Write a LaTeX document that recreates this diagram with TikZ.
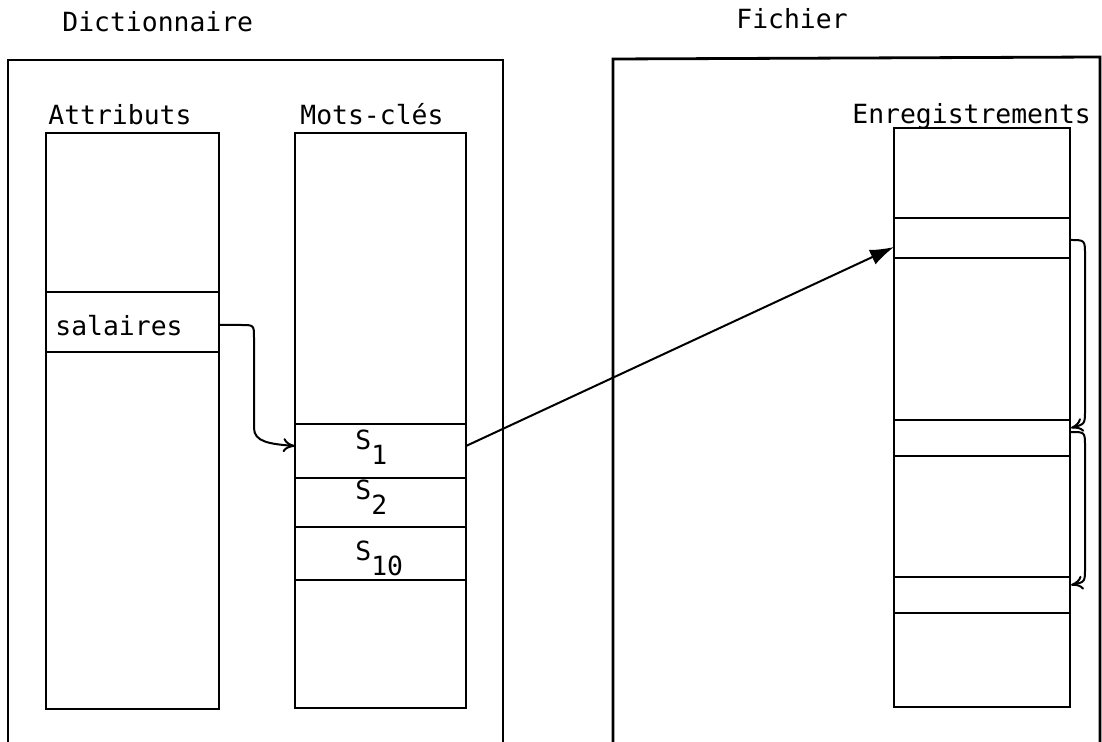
\documentclass[tikz,border=0pt]{standalone}
\usepackage{fontspec}
\setmonofont{DejaVu Sans Mono}
\usetikzlibrary{arrows.meta}
\newcommand{\indice}[1]{\raisebox{-7.5pt}{#1}}

\begin{document}
\begin{tikzpicture}[x=0.5pt,y=-0.5pt,
        texte/.style={anchor=base west, inner sep=0pt, font=\ttfamily\fontsize{13.2}{15}\selectfont},
        cadre/.style={line width=1.4pt},
        colonne/.style={line width=1.2pt},
        case/.style={line width=1pt},
        fleche/.style={line width=1pt, -{To[length=6pt,width=7pt]}}]
        \useasboundingbox (0,0) rectangle (1102,742);
        % Titres
        \node[texte] (dico) at (62,32) {Dictionnaire};
        \node[texte] (fich) at (736,29) {Fichier};
        % Cadres ouverts en bas
        \draw[cadre] (8,742) -- (8,60) -- (503,60) -- (503,742);
        \draw[cadre] (613,742) -- (613,59) -- (1100,57) -- (1100,742);
        % Colonne des attributs
        \node[texte] (attr) at (48,125) {Attributs};
        \draw[colonne] (46,133) rectangle (219,709);
        \draw[case] (46,292) -- (219,292);
        \draw[case] (46,352) -- (219,352);
        \node[texte] (sal) at (55,336) {salaires};
        % Colonne des mots-clés
        \node[texte] (mots) at (300,125) {Mots-clés};
        \draw[colonne] (295,133) rectangle (466,708);
        \foreach \y in {424,478,527,580}
            \draw[case] (295,\y) -- (466,\y);
        \node[texte] (s1) at (355,450) {S\indice{1}};
        \node[texte] (s2) at (355,500) {S\indice{2}};
        \node[texte] (s10) at (355,560) {S\indice{10}};
        % Colonne des enregistrements
        \node[texte] (enr) at (852,124) {Enregistrements};
        \draw[colonne] (894,128) rectangle (1070,707);
        \foreach \y in {218,258,420,456,577,613}
            \draw[case] (894,\y) -- (1070,\y);
        % Points d'attache des flèches
        \coordinate (salD) at (219,325);
        \coordinate (s1G) at (295,446);
        \coordinate (s1D) at (466,446);
        \coordinate (enrA) at (894,247);
        \coordinate (enrB) at (1070,240);
        \coordinate (enrC) at (1071,428);
        \coordinate (enrD) at (1071,432);
        \coordinate (enrE) at (1071,585);
        % Flèches
        \draw[fleche] (salD) -- (241,325) .. controls (254,325) .. (254,338)
            -- (254,428) .. controls (254,442) and (270,444) .. (s1G);
        \draw[line width=1pt, -{Latex[length=12pt,width=8pt]}] (s1D) -- (enrA);
        \draw[fleche] (enrB) .. controls (1085,240) .. (1085,255)
            -- (1085,410) .. controls (1085,424) .. (enrC);
        \draw[fleche] (enrD) .. controls (1085,432) .. (1085,447)
            -- (1085,568) .. controls (1085,582) .. (enrE);
    \end{tikzpicture}
\end{document}
